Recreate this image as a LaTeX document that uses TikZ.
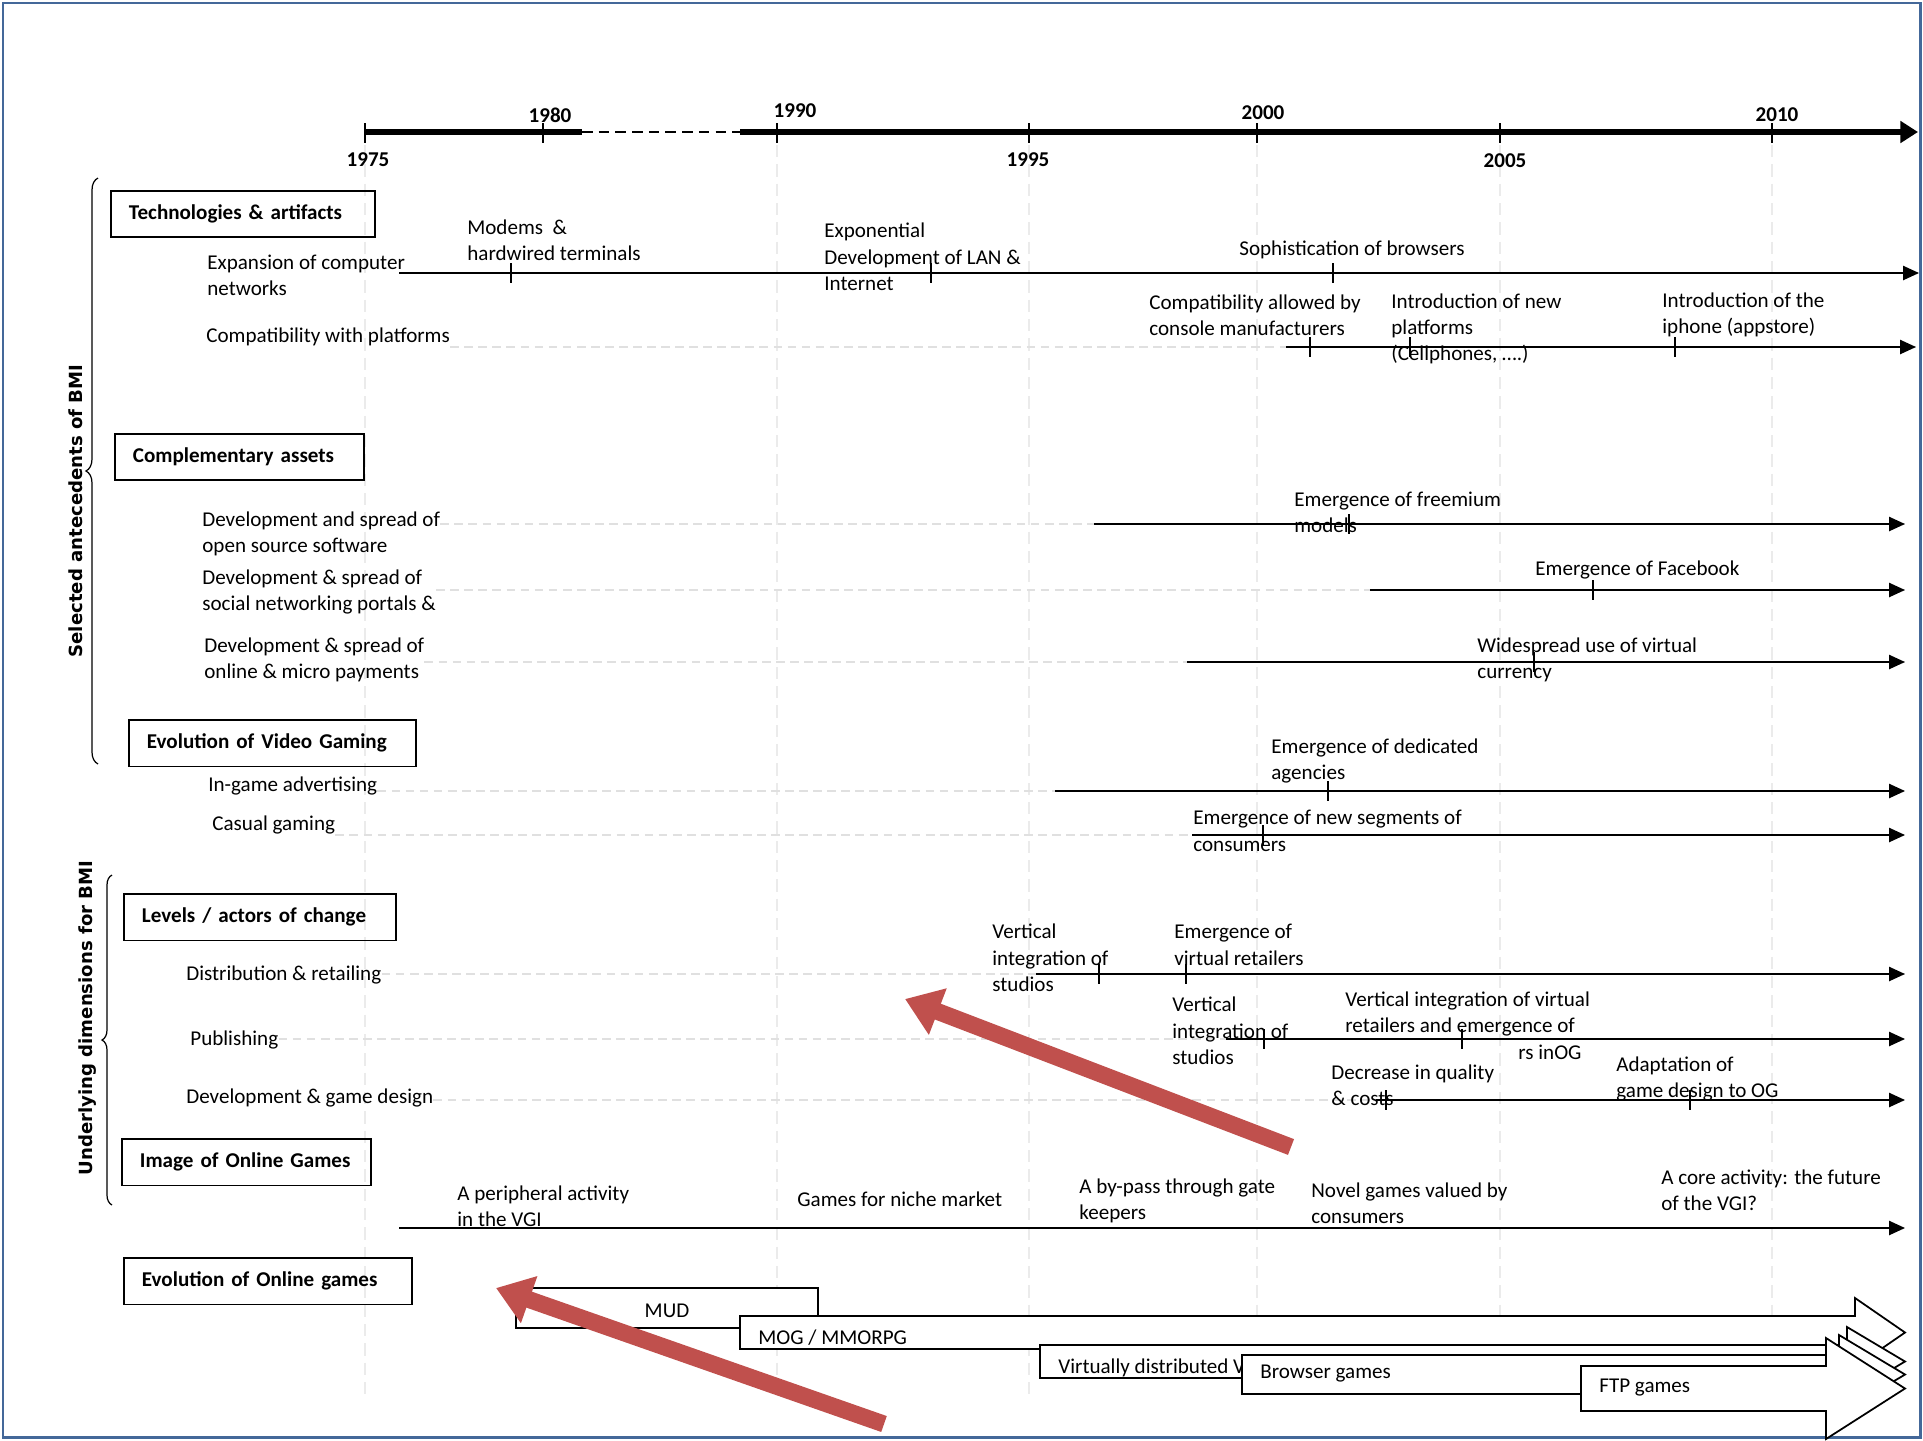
\documentclass[tikz,border=0pt]{standalone}
\usepackage{fontspec}
\setmainfont{Carlito}
\newfontfamily\bmifont{DejaVu Sans}
\usepackage{tikz}
\usetikzlibrary{arrows.meta,decorations.pathreplacing}
\definecolor{frameblue}{RGB}{68,104,153}
\definecolor{shiftred}{RGB}{192,80,77}

\begin{document}
\begin{tikzpicture}[x=0.02cm,y=-0.02cm,font=\fontsize{12}{15}\selectfont,>=Latex,
  catbox/.style={draw,line width=1.1pt,font=\fontsize{12}{15}\selectfont\bfseries,anchor=north west,align=left,inner xsep=0.36cm,minimum height=0.93cm},
  txt/.style={anchor=west,align=left,inner sep=0pt},
  evline/.style={line width=1pt,-{Triangle[length=9pt,width=8pt]}},
  evtick/.style={line width=1pt},
  leader/.style={black!12,line width=0.8pt,dash pattern=on 5pt off 3pt},
  yeargrid/.style={black!8,line width=0.8pt,dash pattern=on 7pt off 4pt},
  bmibrace/.style={decorate,line width=0.7pt},
  bmilabel/.style={rotate=90,font=\bmifont\fontsize{10.3}{12}\selectfont\bfseries},
  gamearrow/.style={draw,line width=1pt,fill=white},
  shiftarrow/.style={shiftred,line width=9.6pt,-{Triangle[length=20pt,width=27pt]}}]

  \useasboundingbox (0,0) rectangle (1923,1440);
  \draw[frameblue,line width=1.7pt] (3,3) rectangle (1920,1437);

  \foreach \x in {365,777,1029,1257,1500,1772}
    \draw[yeargrid] (\x,145) -- (\x,1400);

  % time axis
  \coordinate (t0) at (365,132);
  \coordinate (t1) at (582,132);
  \coordinate (t2) at (740,132);
  \coordinate (t3) at (1918,132);
  \draw[line width=3.4pt] (t0) -- (t1);
  \draw[line width=1pt,dash pattern=on 6pt off 3.5pt] (t1) -- (t2);
  \draw[line width=3.4pt,-{Triangle[length=10pt,width=12pt]}] (t2) -- (t3);
  \foreach \x/\yr/\lx/\ly in {365/1975/368/160,543/1980/550/115,777/1990/795/111,1029/1995/1028/160,1257/2000/1263/113,1500/2005/1505/161,1772/2010/1777/115}{
    \draw[line width=1.2pt] (\x,123) -- (\x,143);
    \node[font=\fontsize{12}{15}\selectfont\bfseries] (y\yr) at (\lx,\ly) {\yr};
  }

  % braces
  \draw[bmibrace,decoration={brace,amplitude=0.24cm}] (98,764) -- (98,178);
  \node[bmilabel] (antec) at (76,511) {Selected antecedents of BMI};
  \draw[bmibrace,decoration={brace,amplitude=0.2cm}] (112,1205) -- (112,875);
  \node[bmilabel] (underl) at (88,1018) {Underlying dimensions for BMI};

  % category boxes
  \node[catbox,text width=4.56cm] (techbox) at (110,190) {Technologies \& artifacts};
  \node[catbox,text width=4.26cm] (compbox) at (114,433) {Complementary assets};
  \node[catbox,text width=5.02cm] (videobox) at (128,719) {Evolution of Video Gaming};
  \node[catbox,text width=4.72cm] (levelbox) at (123,893) {Levels / actors of change};
  \node[catbox,text width=4.26cm] (imagebox) at (121,1138) {Image of Online Games};
  \node[catbox,text width=5.04cm] (onlinebox) at (123,1257) {Evolution of Online games};

  % row labels
  \foreach \n/\x/\y/\t in {1/207/275/{Expansion of computer\\networks},
      2/206/337/{Compatibility with platforms},
      3/202/534/{Development and spread of\\open source software},
      4/202/592/{Development \& spread of\\social networking portals \&},
      5/204/660/{Development \& spread of\\online \& micro payments},
      6/208/786/{In-game advertising},
      7/212/825/{Casual gaming},
      8/186/975/{Distribution \& retailing},
      9/190/1040/{Publishing},
      10/186/1098/{Development \& game design}}
    \node[txt] (lab\n) at (\x,\y) {\t};

  % event lines
  \foreach \n/\y/\a/\b/\tl in {1/273/399/1919/{511,931,1333},2/347/1286/1916/{1310,1410,1675},
      3/524/1094/1905/{1349},4/590/1370/1905/{1593},5/662/1187/1905/{1534},
      6/791/1055/1905/{1328},7/835/1192/1905/{1263},8/974/1036/1905/{1099,1186},
      9/1039/1226/1905/{1264,1462},10/1100/1376/1905/{1386,1690}}{
    \coordinate (s\n) at (\a,\y);
    \coordinate (e\n) at (\b,\y);
    \draw[leader] (lab\n.east |- s\n) -- (e\n);
    \draw[evline] (s\n) -- (e\n);
    \foreach \t in \tl {\draw[evtick] (\t,\y-10) -- (\t,\y+10);}
  }
  \coordinate (s11) at (399,1228);
  \coordinate (e11) at (1905,1228);
  \draw[evline] (s11) -- (e11);

  % events
  \node[txt] (modems) at (467,240) {Modems \ \&\\hardwired terminals};
  \node[txt] (lan) at (824,257) {Exponential\\Development of LAN \&\\Internet};
  \node[txt] (browsers) at (1239,250) {Sophistication of browsers};
  \node[txt] (consoles) at (1149,315) {Compatibility allowed by\\console manufacturers};
  \node[txt] (newplat) at (1391,329) {Introduction of new\\platforms\\(Cellphones, ….)};
  \node[txt] (iphone) at (1662,315) {Introduction of the\\iphone (appstore)};
  \node[txt] (freemium) at (1294,512) {Emergence of freemium\\models};
  \node[txt] (facebook) at (1535,570) {Emergence of Facebook};
  \node[txt] (currency) at (1477,660) {Widespread use of virtual\\currency};
  \node[txt] (agencies) at (1271,761) {Emergence of dedicated\\agencies};
  \node[txt] (segments) at (1193,831) {Emergence of new segments of\\consumers};
  \node[txt] (vstudio) at (992,958) {Vertical\\integration of\\studios};
  \node[txt] (vretail) at (1174,945) {Emergence of\\virtual retailers};
  \node[txt] (pstudio) at (1172,1031) {Vertical\\integration of\\studios};
  \node[txt] (pretail) at (1345,1014) {Vertical integration of virtual\\retailers and emergence of};
  \node[txt] (pog) at (1518,1052) {rs inOG};
  \node[txt] (quality) at (1331,1085) {Decrease in quality\\\& costs};
  \node[txt] (design) at (1616,1079) {Adaptation of\\game design to OG};
  \node[txt] (periph) at (457,1206) {A peripheral activity\\in the VGI};
  \node[txt] (niche) at (797,1199) {Games for niche market};
  \node[txt] (bypass) at (1079,1201) {A by-pass through gate\\keepers};
  \node[txt] (novel) at (1311,1203) {Novel games valued by\\consumers};
  \node[txt] (core) at (1661,1190) {A core activity: the future\\of the VGI?};

  % online game generations
  \draw[gamearrow] (516,1288) rectangle (818,1328);
  \node (mud) at (667,1311) {MUD};
  \foreach \n/\x/\t/\b/\h/\e/\ty/\txt in {mog/740/1316/1349/1855/18/1338/{MOG / MMORPG},
      virt/1040/1345/1378/1847/18/1368/{Virtually distributed V},
      brow/1242/1355/1394/1839/20/1374/{Browser games},
      ftp/1581/1366/1411/1826/28/1388/{FTP games}}{
    \draw[gamearrow] (\x,\t) -- (\h,\t) -- (\h,\t-\e) -- (1905,{(\t+\b)/2}) -- (\h,\b+\e) -- (\h,\b) -- (\x,\b) -- cycle;
    \node[txt] (\n) at (\x+18,\ty) {\txt};
  }

  \coordinate (ra1s) at (1291,1147);
  \coordinate (ra1e) at (905,999);
  \coordinate (ra2s) at (884,1424);
  \coordinate (ra2e) at (496,1288);
  \draw[shiftarrow] (ra1s) -- (ra1e);
  \draw[shiftarrow] (ra2s) -- (ra2e);
\end{tikzpicture}
\end{document}
